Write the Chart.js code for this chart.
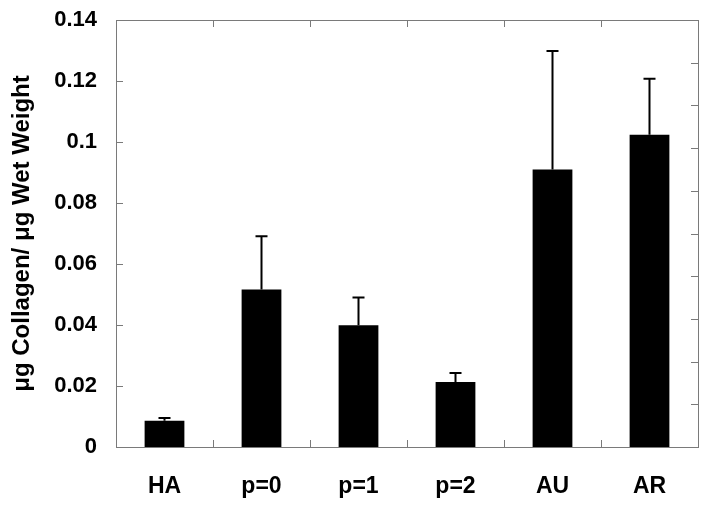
<!DOCTYPE html>
<html>
<head>
<meta charset="utf-8">
<script src="https://cdn.jsdelivr.net/npm/chart.js@4"></script>
<style>
html,body{margin:0;padding:0;background:#fff;}
#wrap{width:708px;height:507px;}
</style>
</head>
<body>
<div id="wrap"><canvas id="c" width="708" height="507"></canvas></div>
<script>
const categories = ["HA", "p=0", "p=1", "p=2", "AU", "AR"];
const means = [0.0086, 0.0516, 0.0399, 0.0213, 0.0910, 0.1024];
const errors = [0.0009, 0.0175, 0.0091, 0.0030, 0.0388, 0.0183];
const yTickValues = [0, 0.02, 0.04, 0.06, 0.08, 0.1, 0.12, 0.14];
const rightTickValues = [0.014, 0.028, 0.042, 0.056, 0.07, 0.084, 0.098, 0.112, 0.126];
const yTitle = "\u03bcg Collagen/ \u03bcg Wet Weight";

const FONT = "'Liberation Sans', Arial, Helvetica, sans-serif";

const framePlugin = {
  id: 'frame',
  afterDatasetsDraw(chart) {
    const ctx = chart.ctx;
    const a = chart.chartArea;
    const xs = chart.scales.x, ys = chart.scales.y;
    ctx.save();
    // error bars
    ctx.strokeStyle = '#000';
    ctx.lineWidth = 2;
    const meta = chart.getDatasetMeta(0);
    meta.data.forEach((bar, i) => {
      const top = ys.getPixelForValue(means[i] + errors[i]);
      ctx.beginPath();
      ctx.moveTo(bar.x, bar.y);
      ctx.lineTo(bar.x, top);
      ctx.moveTo(bar.x - 6, top);
      ctx.lineTo(bar.x + 6, top);
      ctx.stroke();
    });
    // frame
    ctx.strokeStyle = '#7a7a7a';
    ctx.lineWidth = 1;
    ctx.strokeRect(Math.round(a.left) + 0.5, Math.round(a.top) + 0.5, Math.round(a.right - a.left), Math.round(a.bottom - a.top));
    // left ticks (inward)
    ctx.beginPath();
    yTickValues.forEach(v => {
      const y = Math.round(ys.getPixelForValue(v)) + 0.5;
      ctx.moveTo(a.left, y); ctx.lineTo(a.left + 7, y);
    });
    // right ticks (inward)
    rightTickValues.forEach(v => {
      const y = Math.round(ys.getPixelForValue(v)) + 0.5;
      ctx.moveTo(a.right, y); ctx.lineTo(a.right - 7, y);
    });
    // x ticks at category boundaries, top and bottom
    for (let i = 1; i < categories.length; i++) {
      const x = Math.round((xs.getPixelForValue(i - 1) + xs.getPixelForValue(i)) / 2) + 0.5;
      ctx.moveTo(x, a.bottom); ctx.lineTo(x, a.bottom - 7);
      ctx.moveTo(x, a.top); ctx.lineTo(x, a.top + 7);
    }
    ctx.stroke();
    ctx.restore();
  }
};

new Chart(document.getElementById('c'), {
  type: 'bar',
  data: {
    labels: categories,
    datasets: [{
      data: means,
      backgroundColor: '#000',
      borderWidth: 0,
      categoryPercentage: 1.0,
      barPercentage: 0.41
    }]
  },
  options: {
    responsive: false,
    animation: false,
    devicePixelRatio: 1,
    layout: { padding: { left: 0, right: 10, top: 20, bottom: 0 } },
    plugins: { legend: { display: false }, tooltip: { enabled: false } },
    scales: {
      x: {
        grid: { display: false, drawTicks: false },
        border: { display: false },
        ticks: { color: '#000', font: { family: FONT, size: 23, weight: 'bold' }, padding: 26, maxRotation: 0 },
        afterFit(s) { s.height = 60; s.paddingLeft = 0; s.paddingRight = 0; }
      },
      y: {
        min: 0, max: 0.14,
        grid: { display: false, drawTicks: false },
        border: { display: false },
        afterBuildTicks(s) { s.ticks = yTickValues.map(v => ({ value: v })); },
        ticks: {
          color: '#000', font: { family: FONT, size: 22, weight: 'bold' }, padding: 19,
          callback: v => String(+v.toFixed(2))
        },
        title: {
          display: true, text: yTitle, color: '#000',
          font: { family: FONT, size: 24, weight: 'bold' },
          padding: { top: 8, bottom: 0 }
        },
        afterFit(s) { s.width = 116; s.paddingTop = 0; s.paddingBottom = 0; }
      }
    }
  },
  plugins: [framePlugin]
});
</script>
</body>
</html>
